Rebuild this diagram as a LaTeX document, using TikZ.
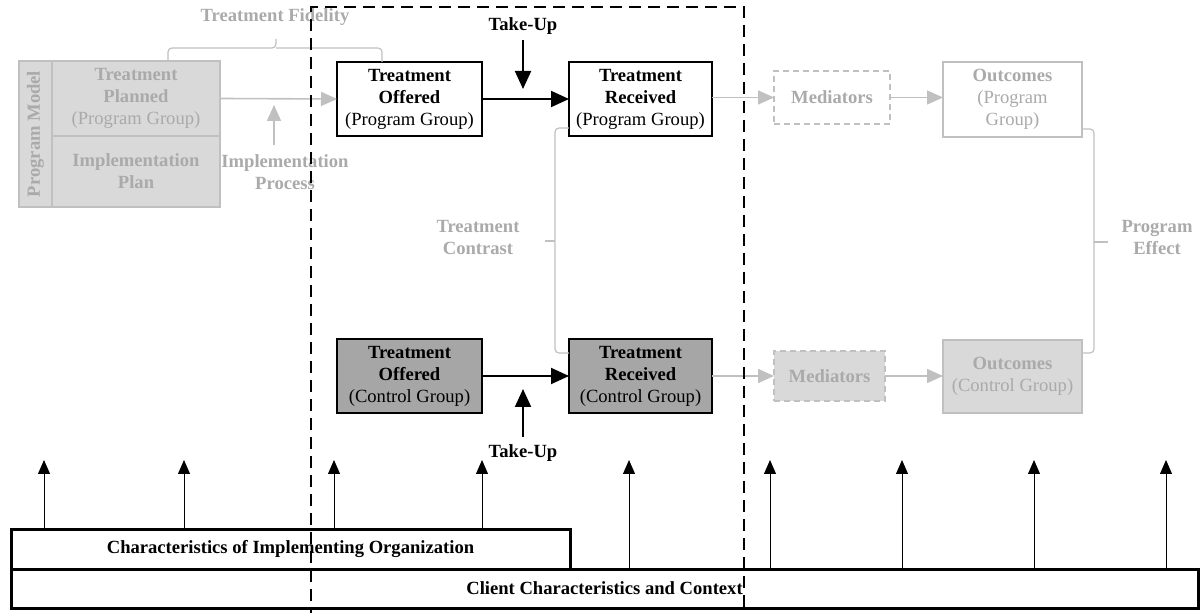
\documentclass[tikz,border=0pt]{standalone}
\usepackage{fontspec}
\setmainfont{Liberation Serif}
\usetikzlibrary{arrows.meta}
\definecolor{ghosttext}{RGB}{170,170,170}
\definecolor{ghostline}{RGB}{192,192,192}
\definecolor{ghostfill}{RGB}{217,217,217}
\definecolor{ctrlfill}{RGB}{166,166,166}
\begin{document}
\begin{tikzpicture}[x=0.5pt,y=-0.5pt,
  every node/.style={inner sep=0pt,outer sep=0pt,align=center,font=\fontsize{9.3}{11}\selectfont},
  wh/.style 2 args={minimum width=#1*0.5pt,minimum height=#2*0.5pt},
  stagebox/.style={draw=black,line width=0.6pt,fill=white},
  ctrlbox/.style={draw=black,line width=0.6pt,fill=ctrlfill},
  planbox/.style={draw=ghostline,line width=1pt,fill=ghostfill,text=ghosttext},
  medbox/.style={draw=ghostline,line width=0.8pt,dashed,dash pattern=on 3pt off 2pt,text=ghosttext},
  outbox/.style={draw=ghostline,line width=0.8pt,text=ghosttext},
  basebox/.style={draw=black,line width=1.5pt,fill=white,font=\fontsize{9.3}{11}\selectfont\bfseries},
  ghostlabel/.style={text=ghosttext,font=\fontsize{9.3}{11}\selectfont\bfseries},
  blacklabel/.style={font=\fontsize{9.3}{11}\selectfont\bfseries},
  ghostarrow/.style={draw=ghostline,line width=0.8pt,-{Triangle[length=8pt,width=7pt]}},
  flowarrow/.style={draw=black,line width=1pt,-{Triangle[length=9pt,width=8pt]}},
  basearrow/.style={draw=black,line width=0.5pt,-{Triangle[length=7pt,width=6pt]}},
  bracket/.style={draw=ghostline,line width=0.6pt,rounded corners=2pt},
  frame/.style={draw=black,line width=1pt,dash pattern=on 6pt off 3.5pt}
]
\useasboundingbox (0,0) rectangle (1202,613);

% program model block
\node[planbox,wh={33}{146}] (pmlabel) at (35.5,134) {};
\node[ghostlabel,rotate=90] (pmtext) at (pmlabel.center) {Program Model};
\node[planbox,wh={168}{75}] (planned) at (136,98.5)
  {\textbf{Treatment}\\\textbf{Planned}\\(Program Group)};
\node[planbox,wh={168}{71}] (implplan) at (136,171.5)
  {\textbf{Implementation}\\\textbf{Plan}};

% treatment stages
\node[stagebox,wh={145}{74}] (offP) at (409.5,99)
  {\textbf{Treatment}\\\textbf{Offered}\\(Program Group)};
\node[stagebox,wh={143}{74}] (recP) at (640.5,99)
  {\textbf{Treatment}\\\textbf{Received}\\(Program Group)};
\node[ctrlbox,wh={145}{74}] (offC) at (409.5,376)
  {\textbf{Treatment}\\\textbf{Offered}\\(Control Group)};
\node[ctrlbox,wh={143}{74}] (recC) at (640.5,376)
  {\textbf{Treatment}\\\textbf{Received}\\(Control Group)};

% mediators and outcomes
\node[medbox,fill=white,wh={116}{53}] (medP) at (832,97.5) {\textbf{Mediators}};
\node[outbox,fill=white,wh={139}{75}] (outP) at (1012.5,99.5)
  {\textbf{Outcomes}\\(Program\\Group)};
\node[medbox,fill=ghostfill,wh={111}{50}] (medC) at (829.5,376) {\textbf{Mediators}};
\node[outbox,fill=ghostfill,wh={139}{73}] (outC) at (1012.5,376.5)
  {\textbf{Outcomes}\\(Control Group)};

% labels
\node[ghostlabel] (fidelity) at (275,17) {Treatment Fidelity};
\node[ghostlabel] (implproc) at (285,172) {Implementation\\Process};
\node[ghostlabel] (contrast) at (478,238) {Treatment\\Contrast};
\node[ghostlabel] (effect) at (1157,238) {Program\\Effect};
\node[blacklabel] (takeP) at (523,26) {Take-Up};
\node[blacklabel] (takeC) at (523,453) {Take-Up};

% context bars
\node[basebox,wh={1187}{39}] (client) at (604.5,588.5) {Client Characteristics and Context};
\node[basebox,wh={559}{40}] (org) at (290.5,549)
  {Characteristics of Implementing Organization};

% brackets
\draw[bracket] (168,0 |- planned.north) -- (168,48) -- (276,48) -- (276,39);
\draw[bracket] (276,48) -- (382,48) -- (382,0 |- offP.north);
\draw[bracket] (recP.west |- 0,128) -- (555,128) -- (555,353) -- (recC.west |- 0,353);
\draw[bracket] (555,241) -- (545,241);
\draw[bracket] (outP.east |- 0,129) -- (1094,129) -- (1094,353) -- (outC.east |- 0,353);
\draw[bracket] (1094,242) -- (1108,242);

% gray flow
\coordinate (implfoot) at (274,145);
\draw[ghostarrow] (planned.east) -- (offP.west);
\draw[ghostarrow] (implfoot) -- (274,105);
\draw[ghostarrow] (recP.east |- medP.west) -- (medP.west);
\draw[ghostarrow] (medP.east) -- (outP.west |- medP.east);
\draw[ghostarrow] (recC.east) -- (medC.west);
\draw[ghostarrow] (medC.east) -- (outC.west |- medC.east);

% black flow
\draw[flowarrow] (offP.east) -- (recP.west);
\draw[flowarrow] (offC.east) -- (recC.west);
\draw[flowarrow] (takeP.south |- 0,40) -- (523,89);
\draw[flowarrow] (takeC.north |- 0,437) -- (523,389);

% influences from the context bars
\foreach \i/\x in {1/44,2/184,3/334,4/482}{
  \coordinate (orgtip\i) at (\x,460);
  \draw[basearrow] (org.north -| \x,0) -- (orgtip\i);
}
\foreach \i/\x in {1/629,2/770,3/902,4/1034,5/1166}{
  \coordinate (clienttip\i) at (\x,460);
  \draw[basearrow] (client.north -| \x,0) -- (clienttip\i);
}

% dashed frame around the treatment stages
\draw[frame] (311,620) -- (311,7) -- (744,7) -- (744,620);
\end{tikzpicture}
\end{document}
